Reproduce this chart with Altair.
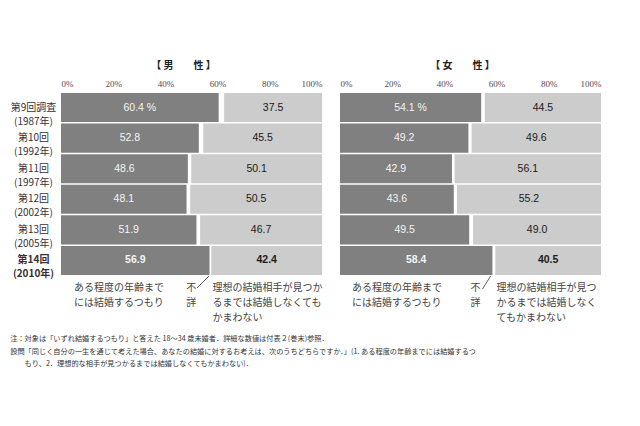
import altair as alt
import pandas as pd

surveys = ["第9回調査|(1987年)", "第10回|(1992年)", "第11回|(1997年)",
           "第12回|(2002年)", "第13回|(2005年)", "第14回|(2010年)"]
male_yes = [60.4, 52.8, 48.6, 48.1, 51.9, 56.9]
male_no = [37.5, 45.5, 50.1, 50.5, 46.7, 42.4]
female_yes = [54.1, 49.2, 42.9, 43.6, 49.5, 58.4]
female_no = [44.5, 49.6, 56.1, 55.2, 49.0, 40.5]
x_ticks = [0, 20, 40, 60, 80, 100]

yes_note = ["ある程度の年齢まで", "には結婚するつもり"]
unknown_note = ["不", "詳"]
male_no_note = ["理想の結婚相手が見つか", "るまでは結婚しなくても", "かまわない"]
female_no_note = ["理想の結婚相手が見つ", "かるまでは結婚しなく", "てもかまわない"]
notes = [
    "注：対象は「いずれ結婚するつもり」と答えた 18～34 歳未婚者．詳細な数値は付表２(巻末)参照．",
    "設問「同じく自分の一生を通じて考えた場合、あなたの結婚に対するお考えは、次のうちどちらですか．」(1. ある程度の年齢までには結婚するつ",
    "\u200b\u3000\u3000もり、2．理想的な相手が見つかるまでは結婚しなくてもかまわない)．",
]
LAST = surveys[-1]
CJK = "Noto Sans CJK JP"


def segs(yes, no):
    rows = []
    for i, (s, y, n) in enumerate(zip(surveys, yes, no)):
        ylab = f"{y:.1f} %" if i == 0 else f"{y:.1f}"
        rows.append(dict(survey=s, seg="yes", start=0, end=y, mid=y / 2,
                         label=ylab, bold=(s == LAST)))
        rows.append(dict(survey=s, seg="no", start=100 - n, end=100,
                         mid=100 - n / 2, label=f"{n:.1f}", bold=(s == LAST)))
    return pd.DataFrame(rows)


def panel(yes, no, title, show_y, no_note, pos, rule_pos):
    df = segs(yes, no)
    if show_y:
        y_axis = alt.Axis(
            labelExpr="split(datum.label, '|')", labelAlign="center",
            labelBaseline="middle", labelPadding=28, ticks=False, tickSize=0,
            domain=False, labelFontSize=10, labelLineHeight=14, labelFont=CJK,
            labelColor="#3a2f33",
            labelFontWeight={"condition": {"test": f"datum.value == '{LAST}'", "value": "bold"},
                             "value": "normal"},
        )
    else:
        y_axis = None
    y_enc = alt.Y("survey:N", sort=surveys, title=None,
                  scale=alt.Scale(paddingInner=0.05, paddingOuter=0.0), axis=y_axis)
    x_enc = alt.X("start:Q", scale=alt.Scale(domain=[0, 100]), title=None,
                  axis=alt.Axis(orient="top", values=x_ticks, labelExpr="datum.value + '%'",
                                domain=False, ticks=False, grid=False,
                                labelFont="Liberation Serif", labelFontSize=9,
                                labelColor="#5a4650", labelPadding=5))
    base = alt.Chart(df)
    bars = base.mark_bar().encode(
        y=y_enc, x=x_enc, x2="end:Q",
        color=alt.Color("seg:N", scale=alt.Scale(domain=["yes", "no"],
                                                 range=["#808080", "#cccccc"]), legend=None),
    )
    tcol = alt.condition("datum.seg == 'yes'", alt.value("#f4f4f4"), alt.value("#1a1a1a"))
    txt = base.transform_filter("!datum.bold").mark_text(
        font="Liberation Sans", fontSize=10.5).encode(
        y=alt.Y("survey:N", sort=surveys), x="mid:Q", text="label:N", color=tcol)
    txtb = base.transform_filter("datum.bold").mark_text(
        font="Liberation Sans", fontSize=10.5, fontWeight="bold").encode(
        y=alt.Y("survey:N", sort=surveys), x="mid:Q", text="label:N", color=tcol)

    ann = pd.DataFrame({
        "survey": [LAST, LAST, LAST],
        "x": pos,
        "t": [yes_note, unknown_note, no_note],
    })
    annt = alt.Chart(ann).mark_text(
        font=CJK, fontSize=10, align="left", baseline="top", dy=23,
        lineHeight=15, color="#444444").encode(
        y=alt.Y("survey:N", sort=surveys), x="x:Q", text="t")
    rule = alt.Chart(pd.DataFrame({"a": [rule_pos[0]], "b": [rule_pos[1]]})).mark_rule(
        color="#333333", strokeWidth=0.8).encode(
        x="a:Q", x2="b:Q", y=alt.value(rule_pos[2]), y2=alt.value(rule_pos[3]))

    return alt.layer(bars, txt, txtb, annt, rule).properties(
        width=261, height=182,
        title=alt.TitleParams(title, fontSize=10, fontWeight="bold", font=CJK,
                              color="#222222", offset=8, dx=-8, anchor="middle"),
    )


left = panel(male_yes, male_no, "【 男　　性 】", True, male_no_note,
             [5, 48, 58], [52.1, 56.7, 195, 183])
right = panel(female_yes, female_no, "【 女　　性 】", False, female_no_note,
              [4.6, 50, 60], [54.6, 57.7, 196, 183])

chart = alt.hconcat(left, right, spacing=17).properties(
    padding={"left": 2, "top": 53, "right": 5, "bottom": 5},
    title=alt.TitleParams(notes, orient="bottom", anchor="start", fontSize=7.2,
                          fontWeight="normal", font=CJK, color="#333333",
                          offset=12, lineHeight=12.5),
).configure_view(stroke=None)

chart.save("out.html", embed_options={"renderer": "svg", "actions": False})
